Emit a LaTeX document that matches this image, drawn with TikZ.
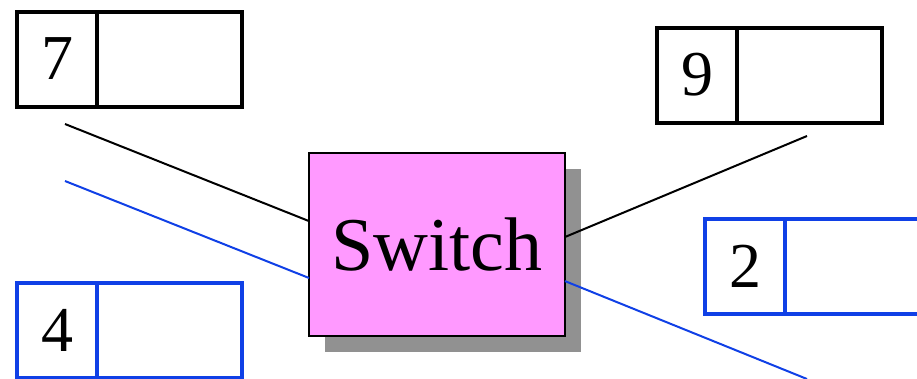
\documentclass[tikz,border=0pt]{standalone}
\usepackage{fontspec}
\setmainfont{Liberation Serif}
\usetikzlibrary{shadows,calc}
\definecolor{pktblue}{RGB}{16,64,230}
\definecolor{swpink}{RGB}{255,153,255}
\definecolor{shgray}{RGB}{145,145,145}
\begin{document}
\begin{tikzpicture}[x=1pt,y=-1pt,
  numcell/.style={draw, line width=4pt, outer sep=0pt, minimum width=80pt, minimum height=95pt, inner sep=0pt, font=\fontsize{64}{64}\selectfont, anchor=east},
  datacell/.style={draw, line width=4pt, outer sep=0pt, minimum width=145pt, minimum height=95pt, inner sep=0pt, anchor=west},
  bluepkt/.style={draw=pktblue},
  switchbox/.style={draw, line width=1.8pt, outer sep=0pt, fill=swpink, minimum width=256pt, minimum height=183pt, inner sep=0pt,
    font=\fontsize{76}{76}\selectfont,
    drop shadow={shadow xshift=16pt, shadow yshift=-16pt, fill=shgray, opacity=1}},
  link/.style={line width=2pt},
  bluelink/.style={line width=2pt, draw=pktblue}]
\useasboundingbox (0,0) rectangle (917,378);
\clip (0,0) rectangle (917,378);
% switch
\node[switchbox] (sw) at (437,244.5) {Switch};
% packets
\node[datacell] (p7d) at (97,59) {};
\node[numcell] (p7) at (97,59) {7};
\node[datacell] (p9d) at (737,75) {};
\node[numcell] (p9) at (737,75) {9};
\node[datacell, bluepkt] (p2d) at (785,266.5) {};
\node[numcell, bluepkt] (p2) at (785,266.5) {2};
\node[datacell, bluepkt] (p4d) at (97,330.5) {};
\node[numcell, bluepkt] (p4) at (97,330.5) {4};
% link free ends
\coordinate (a7) at (65,124);
\coordinate (a4) at (65,181);
\coordinate (a9) at (807,136);
\coordinate (a2) at (807,379);
\draw[link] (a7) -- ($(sw.north west)!0.372!(sw.south west)$);
\draw[bluelink] (a4) -- ($(sw.north west)!0.683!(sw.south west)$);
\draw[link] (a9) -- ($(sw.north east)!0.459!(sw.south east)$);
\draw[bluelink] (a2) -- ($(sw.north east)!0.70!(sw.south east)$);
\end{tikzpicture}
\end{document}
